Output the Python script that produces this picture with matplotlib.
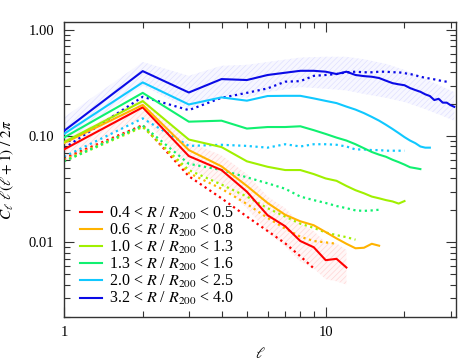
import matplotlib
matplotlib.use("Agg")
import matplotlib.pyplot as plt
from matplotlib.ticker import FixedLocator, FixedFormatter, NullFormatter

plt.rcParams["font.family"] = ["Liberation Serif", "DejaVu Serif"]
plt.rcParams["mathtext.fontset"] = "stix"
plt.rcParams["hatch.linewidth"] = 0.5

LABELS = [
    r"0.4 < $R$ / $R_{200}$ < 0.5",
    r"0.6 < $R$ / $R_{200}$ < 0.8",
    r"1.0 < $R$ / $R_{200}$ < 1.3",
    r"1.3 < $R$ / $R_{200}$ < 1.6",
    r"2.0 < $R$ / $R_{200}$ < 2.5",
    r"3.2 < $R$ / $R_{200}$ < 4.0",
]
COLORS = ["#ff0000", "#ffb300", "#a0f000", "#10f070", "#10c8ff", "#0a0ae6"]

# solid curves, one value per multipole l = 1, 2, 3, ...
solid = [
    [0.075, 0.187, 0.065, 0.048, 0.030, 0.018, 0.0142, 0.0103, 0.0090, 0.0068,
     0.0070, 0.0058],
    [0.086, 0.197, 0.074, 0.052, 0.034, 0.0235, 0.0182, 0.0158, 0.0145, 0.0125,
     0.0109, 0.0097, 0.0088, 0.0089, 0.0097, 0.0093],
    [0.088, 0.214, 0.093, 0.079, 0.058, 0.0515, 0.048, 0.048, 0.044, 0.040,
     0.038, 0.034, 0.031, 0.029, 0.027, 0.026, 0.025, 0.0243, 0.0232, 0.0245],
    [0.097, 0.256, 0.137, 0.140, 0.118, 0.122, 0.122, 0.124, 0.114, 0.105,
     0.097, 0.091, 0.084, 0.077, 0.071, 0.067, 0.064, 0.060, 0.057, 0.054,
     0.051, 0.050, 0.049],
    [0.105, 0.321, 0.199, 0.232, 0.216, 0.239, 0.240, 0.240, 0.227, 0.215,
     0.205, 0.190, 0.178, 0.165, 0.152, 0.140, 0.128, 0.117, 0.107, 0.098,
     0.091, 0.086, 0.080, 0.078, 0.078],
    [0.112, 0.410, 0.258, 0.345, 0.338, 0.377, 0.396, 0.413, 0.413, 0.405,
     0.385, 0.405, 0.377, 0.368, 0.363, 0.353, 0.333, 0.316, 0.308, 0.302,
     0.284, 0.272, 0.262, 0.248, 0.239, 0.219, 0.225, 0.207, 0.207, 0.196,
     0.189],
]

# dotted curves, same multipole grid
dotted = [
    [0.062, 0.127, 0.042, 0.026, 0.0175, 0.0128, 0.0098, 0.0074, 0.0057],
    [0.060, 0.124, 0.045, 0.032, 0.023, 0.017, 0.0135, 0.0113, 0.0103,
     0.0100, 0.0097],
    [0.058, 0.122, 0.048, 0.035, 0.027, 0.021, 0.0175, 0.015, 0.0137,
     0.0124, 0.0117, 0.0112, 0.0106],
    [0.058, 0.126, 0.055, 0.048, 0.041, 0.036, 0.032, 0.027, 0.025, 0.0235,
     0.022, 0.021, 0.020, 0.0198, 0.020, 0.0203],
    [0.064, 0.147, 0.081, 0.083, 0.081, 0.078, 0.084, 0.080, 0.084, 0.084,
     0.083, 0.080, 0.075, 0.075, 0.074, 0.074, 0.073, 0.073, 0.073, 0.073],
    [0.077, 0.235, 0.176, 0.230, 0.256, 0.282, 0.326, 0.330, 0.370, 0.377,
     0.385, 0.400, 0.405, 0.400, 0.400, 0.405, 0.405, 0.400, 0.400, 0.392,
     0.385, 0.375, 0.363, 0.355, 0.349, 0.343, 0.336, 0.330, 0.326],
]

# scatter bands around the innermost and outermost shells
red_band_ell = [1, 2, 3, 4, 5, 6, 7, 8, 9, 10, 11, 12]
red_band_hi = [0.092, 0.225, 0.088, 0.066, 0.044, 0.027, 0.021, 0.0150,
               0.0128, 0.0100, 0.0098, 0.0085]
red_band_lo = [0.057, 0.150, 0.050, 0.035, 0.021, 0.0125, 0.0092, 0.0066,
               0.0057, 0.0045, 0.0043, 0.0040]

blue_band_ell = [1, 2, 3, 4, 5, 6, 8, 10, 12, 14, 17, 20, 24, 28, 31]
blue_band_hi = [0.150, 0.50, 0.37, 0.46, 0.47, 0.50, 0.55, 0.56, 0.56, 0.53,
                0.48, 0.42, 0.35, 0.29, 0.26]
blue_band_lo = [0.085, 0.30, 0.18, 0.24, 0.23, 0.26, 0.29, 0.28, 0.27, 0.25,
                0.23, 0.21, 0.18, 0.155, 0.14]


def ells(n):
    return list(range(1, n + 1))


fig = plt.figure(figsize=(4.77, 3.61), dpi=100)
ax = fig.add_axes([0.134, 0.123, 0.823, 0.815])

ax.fill_between(blue_band_ell, blue_band_lo, blue_band_hi,
                facecolor="#f7f7ff", edgecolor="#e0e0ff", hatch="//////",
                linewidth=0, zorder=1)
ax.fill_between(red_band_ell, red_band_lo, red_band_hi,
                facecolor="#fff7f7", edgecolor="#ffd6d6", hatch="//////",
                linewidth=0, zorder=1)

for vals, color in zip(dotted, COLORS):
    ax.plot(ells(len(vals)), vals, color=color, lw=1.6,
            linestyle=(0, (1, 1.6)), zorder=2)

for vals, color, label in zip(solid, COLORS, LABELS):
    ax.plot(ells(len(vals)), vals, color=color, lw=1.5, label=label,
            zorder=3)

ax.set_xscale("log")
ax.set_yscale("log")
ax.set_xlim(1, 31.6)
ax.set_ylim(0.002, 1.18)

ax.xaxis.set_major_locator(FixedLocator([1, 10]))
ax.xaxis.set_major_formatter(FixedFormatter(["1", "10"]))
ax.xaxis.set_minor_formatter(NullFormatter())
ax.yaxis.set_major_locator(FixedLocator([0.01, 0.1, 1.0]))
ax.yaxis.set_major_formatter(FixedFormatter(["0.01", "0.10", "1.00"]))
ax.yaxis.set_minor_formatter(NullFormatter())

ax.tick_params(which="both", direction="in", top=True, right=True,
               labelsize=10.5, color="#333333")
ax.tick_params(which="major", length=7, width=0.8, pad=7)
ax.tick_params(which="minor", length=4, width=0.8)
for sp in ax.spines.values():
    sp.set_linewidth(1.0)
    sp.set_color("#333333")

ax.set_xlabel(r"$\ell$", fontsize=11, labelpad=5)
ax.set_ylabel(r"$C_\ell\ \ell(\ell + 1)\ /\ 2\pi$", fontsize=11, labelpad=9)

ax.legend(loc="lower left", frameon=False, fontsize=11.5, handlelength=1.35,
          handletextpad=0.45, labelspacing=0.0, borderaxespad=0.0,
          bbox_to_anchor=(0.025, 0.01))

fig.savefig("out.png", dpi=100)
